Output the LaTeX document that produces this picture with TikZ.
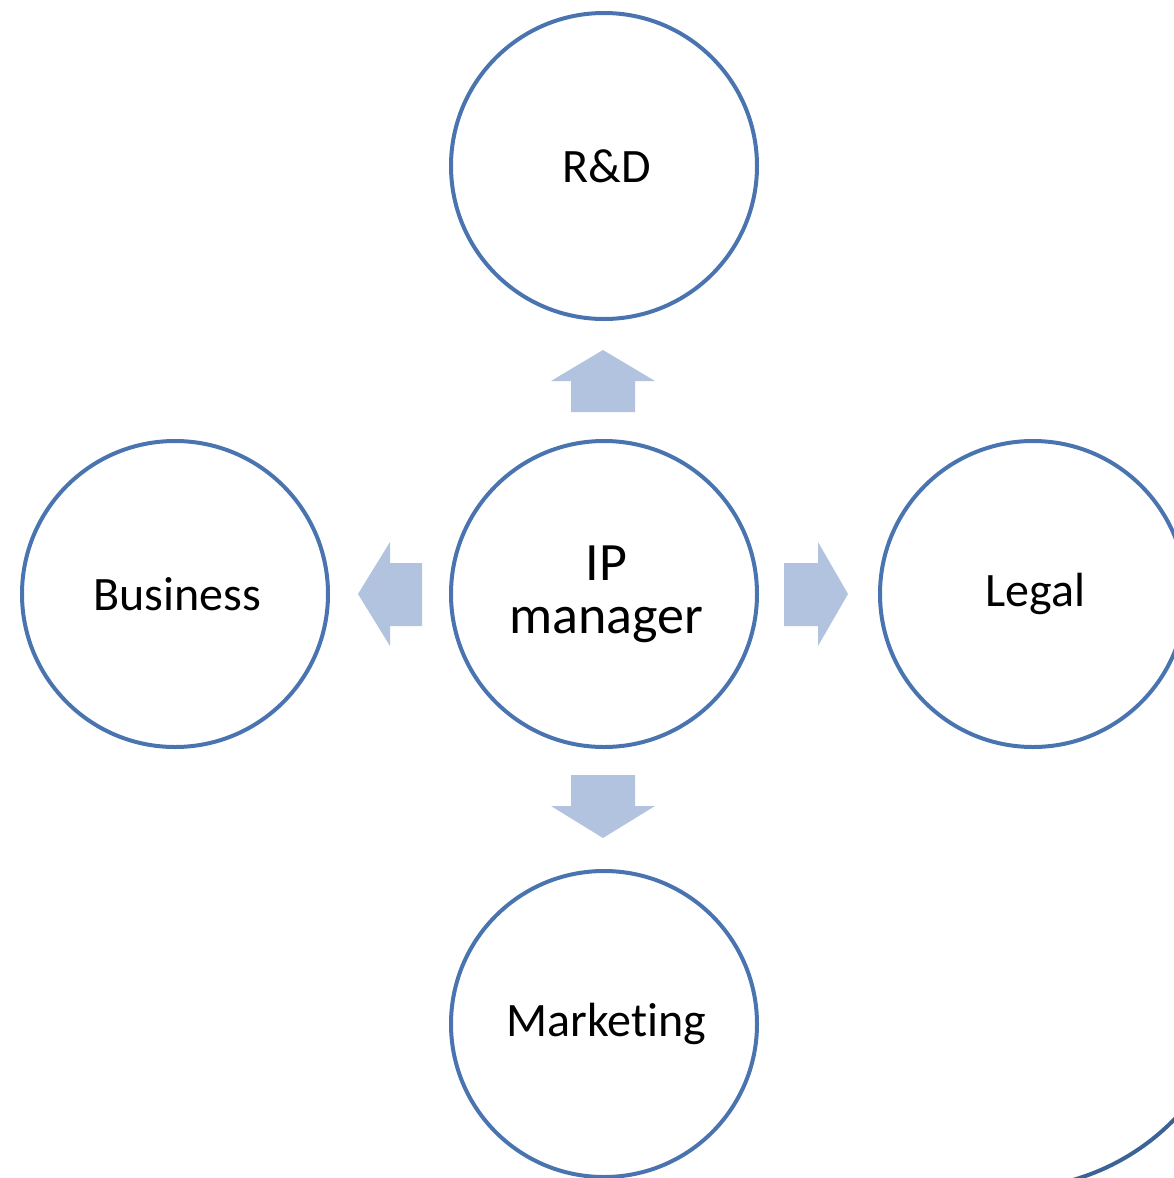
\documentclass[tikz,border=0pt]{standalone}
\usepackage{fontspec}
\setmainfont[Ligatures=NoCommon]{Carlito}
\definecolor{ringblue}{RGB}{74,116,176}
\definecolor{arcblue}{RGB}{59,99,150}
\definecolor{arrowfill}{RGB}{177,195,222}
\tikzset{
  ring/.style={circle, draw=ringblue, line width=4pt, minimum size=306pt, inner sep=0pt,
    font=\fontsize{48}{58}\selectfont, align=center, text=black},
  bigtext/.style={font=\fontsize{54}{53}\selectfont},
  blockarrow/.style={fill=arrowfill, draw=none}
}
\begin{document}
\begin{tikzpicture}[x=1pt,y=-1pt]
\useasboundingbox (0,0) rectangle (1174,1178);
\begin{scope}
\clip (0,0) rectangle (1174,1178);
\node[ring] (rd) at (604,166) {\hspace*{5pt}R\&D};
\node[ring, bigtext] (ip) at (604,594) {\hspace*{5pt}IP\\\hspace*{5pt}manager};
\node[ring] (bus) at (175,594) {\hspace*{5pt}Business};
\node[ring] (legal) at (1033,594) {\hspace*{5pt}Legal};
\node[ring] (mkt) at (604,1024) {\hspace*{5pt}Marketing};
\coordinate (arcc) at (1009,958);
\draw[arcblue, line width=4pt] (arcc) ++(38:231) arc[start angle=38, end angle=84, radius=231];
\end{scope}
% block arrows
\fill[blockarrow] (571,412) -- (571,381) -- (551,381) -- (603,350) -- (655,381) -- (635,381) -- (635,412) -- cycle;
\fill[blockarrow] (571,775) -- (571,806) -- (551,806) -- (603,838) -- (655,806) -- (635,806) -- (635,775) -- cycle;
\fill[blockarrow] (422,563) -- (390,563) -- (390,542) -- (358,594) -- (390,646) -- (390,626) -- (422,626) -- cycle;
\fill[blockarrow] (784,563) -- (818,563) -- (818,542) -- (848,594) -- (818,646) -- (818,626) -- (784,626) -- cycle;
\end{tikzpicture}
\end{document}
